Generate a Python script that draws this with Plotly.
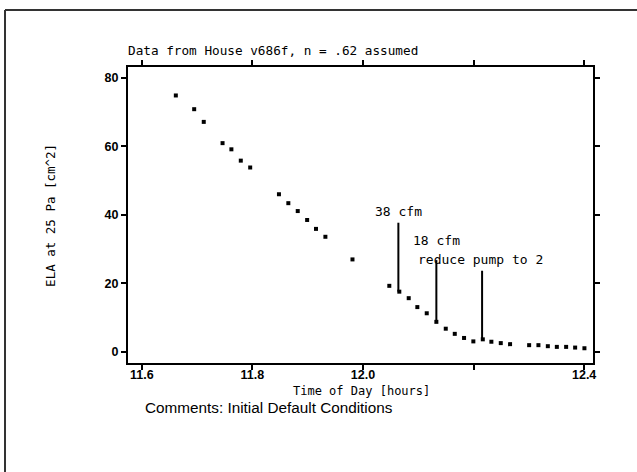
import plotly.graph_objects as go

# data
time_h = [11.6615, 11.6947, 11.712, 11.746, 11.762, 11.779, 11.796,
          11.848, 11.865, 11.882, 11.899, 11.915, 11.932, 11.981,
          12.0476, 12.0657, 12.0827, 12.0983, 12.1153, 12.1327, 12.1497,
          12.166, 12.1828, 12.1996, 12.2167, 12.2322, 12.2492, 12.266,
          12.3005, 12.3173, 12.3343, 12.3506, 12.3674, 12.3837, 12.4005]
ela = [74.8, 70.8, 67.1, 60.9, 59.1, 55.8, 53.8,
       46.0, 43.4, 41.1, 38.5, 35.9, 33.6, 27.0,
       19.3, 17.6, 15.7, 13.1, 11.3, 8.8, 6.8,
       5.3, 4.1, 3.1, 3.7, 3.0, 2.6, 2.3,
       2.0, 2.0, 1.7, 1.5, 1.5, 1.3, 1.1]

event_x = [12.064, 12.1327, 12.2154]
event_top = [37.7, 26.8, 23.7]
event_bottom = [17.6, 8.8, 3.7]
event_labels = ["38 cfm", "18 cfm", "reduce pump to 2"]
label_x = [12.0176, 12.087, 12.096]
label_y = [40.9, 32.4, 27.1]

x_tickvals = [11.6, 11.8, 12.0, 12.2, 12.4]
x_ticktext = ["11.6", "11.8", "12.0", "", "12.4"]
y_tickvals = [0, 20, 40, 60, 80]

title_text = "Data from House v686f, n = .62 assumed"
x_title = "Time of Day [hours]"
y_title = "ELA at 25 Pa [cm^2]"
comment_text = "Comments: Initial Default Conditions"

MONO = "DejaVu Sans Mono"

fig = go.Figure()

lx, ly = [], []
for x, t, b in zip(event_x, event_top, event_bottom):
    lx += [x, x, None]
    ly += [b, t, None]
fig.add_trace(go.Scatter(x=lx, y=ly, mode="lines",
                         line=dict(color="black", width=2),
                         hoverinfo="skip", showlegend=False))

fig.add_trace(go.Scatter(x=time_h, y=ela, mode="markers",
                         marker=dict(symbol="square", size=4, color="black"),
                         showlegend=False))

for t, x, y in zip(event_labels, label_x, label_y):
    fig.add_annotation(x=x, y=y, text=t, showarrow=False, xanchor="left",
                       yanchor="middle", font=dict(family=MONO, size=13, color="black"))

fig.add_annotation(xref="paper", yref="paper", x=-0.0043, y=1.055, text=title_text,
                   showarrow=False, xanchor="left", yanchor="middle",
                   font=dict(family=MONO, size=12.7, color="black"))
fig.add_annotation(xref="paper", yref="paper", x=0.503, y=-0.094, text=x_title,
                   showarrow=False, xanchor="center", yanchor="middle",
                   font=dict(family=MONO, size=12, color="black"))
fig.add_annotation(xref="paper", yref="paper", x=-0.168, y=0.5, text=y_title,
                   showarrow=False, xanchor="center", yanchor="middle", textangle=-90,
                   font=dict(family=MONO, size=12.5, color="black"))
fig.add_annotation(xref="paper", yref="paper", x=0.032, y=-0.152, text=comment_text,
                   showarrow=False, xanchor="left", yanchor="middle",
                   font=dict(family="Liberation Sans", size=15.3, color="black"))

# outer frame (cut off at right/bottom in the reference)
fig.add_shape(type="line", xref="paper", yref="paper", x0=-0.2645, x1=1.11,
              y0=1.1926, y1=1.1926, line=dict(color="#333", width=2))
fig.add_shape(type="line", xref="paper", yref="paper", x0=-0.2645, x1=-0.2645,
              y0=1.1926, y1=-0.4, line=dict(color="#333", width=2))

axis_common = dict(showgrid=False, zeroline=False, showline=True, linecolor="black",
                   linewidth=2, ticks="outside", ticklen=5, tickwidth=1.5,
                   tickcolor="black", mirror="ticks",
                   tickfont=dict(family="Liberation Sans", size=12.5, color="black", weight="bold"))

fig.update_xaxes(range=[11.575, 12.416], tickvals=x_tickvals, ticktext=x_ticktext,
                 ticklabelstandoff=-6, **axis_common)
fig.update_yaxes(range=[-3.2, 83.1], tickvals=y_tickvals, **axis_common)

fig.update_layout(width=637, height=472, margin=dict(l=128, r=44, t=67, b=109),
                  paper_bgcolor="white", plot_bgcolor="white")

fig.write_html("out.html", config={"displayModeBar": False},
               post_script="document.body.style.margin='0';")
